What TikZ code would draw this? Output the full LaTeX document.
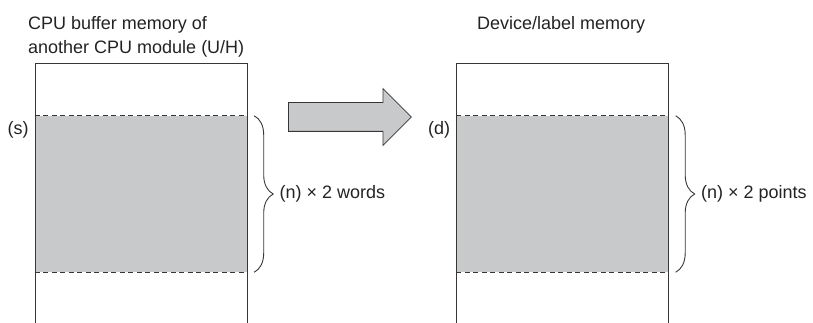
\documentclass[tikz,border=0pt]{standalone}
\usepackage{fontspec}
\setmainfont{Liberation Sans}
\usetikzlibrary{positioning, shapes.arrows, decorations.pathreplacing}
\definecolor{AreaGray}{RGB}{200, 201, 203}
\definecolor{LineDark}{RGB}{55, 55, 55}
\definecolor{TextDark}{RGB}{35, 35, 35}

\tikzset{
  memarea/.style={fill=AreaGray, minimum width=212pt, minimum height=156pt, inner sep=0pt},
  memtext/.style={text=TextDark, font=\fontsize{18}{24}\selectfont, inner sep=0pt},
  limit/.style={draw=LineDark, line width=0.8pt, dash pattern=on 5pt off 3.5pt},
  wall/.style={draw=LineDark, line width=0.9pt},
  span/.style={draw=LineDark, line width=0.9pt, decorate, decoration={brace, amplitude=19pt, aspect=0.5}}
}

\begin{document}
\begin{tikzpicture}[x=1pt, y=-1pt]
  \useasboundingbox (0,0) rectangle (813,323);

  % memory areas
  \node[memarea] (srcarea) at (141,194) {};
  \node[memarea] (dstarea) at (562.5,194) {};

  % box walls
  \draw[wall] (35,323) -- (35,63) -- (247,63) -- (247,323);
  \draw[wall] (456.5,323) -- (456.5,63) -- (668.5,63) -- (668.5,323);

  % range limits
  \draw[limit] (srcarea.north west) -- (srcarea.north east);
  \draw[limit] (srcarea.south west) -- (srcarea.south east);
  \draw[limit] (dstarea.north west) -- (dstarea.north east);
  \draw[limit] (dstarea.south west) -- (dstarea.south east);

  % titles
  \node[memtext, anchor=north west, align=left] (srctitle) at (28,16) {CPU buffer memory of\\another CPU module (U/H)};
  \node[memtext, anchor=north west] (dsttitle) at (477,16) {Device/label memory};

  % start labels
  \node[memtext, anchor=east, left=6pt of srcarea.north west, yshift=-14pt] (s) {(s)};
  \node[memtext, anchor=east, left=6pt of dstarea.north west, yshift=-14pt] (d) {(d)};

  % transfer arrow
  \node[single arrow, draw=LineDark, fill=AreaGray, line width=0.8pt, inner xsep=0pt, inner ysep=14pt,
        minimum width=56pt, minimum height=123pt, single arrow head extend=14pt, anchor=tail] (copyarrow) at (288,117) {};

  % braces
  \draw[span] ([xshift=7pt]srcarea.north east) -- ([xshift=7pt]srcarea.south east)
    node[midway, right=25pt, memtext] (words) {(n) × 2 words};
  \draw[span] ([xshift=7pt]dstarea.north east) -- ([xshift=7pt]dstarea.south east)
    node[midway, right=25pt, memtext] (points) {(n) × 2 points};
\end{tikzpicture}
\end{document}
